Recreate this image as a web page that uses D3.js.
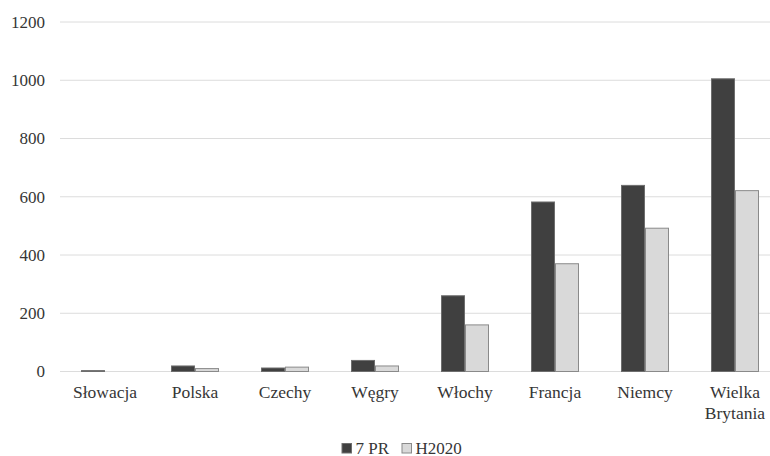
<!DOCTYPE html>
<html>
<head>
<meta charset="utf-8">
<script src="https://cdn.jsdelivr.net/npm/d3@7"></script>
<style>
  html, body { margin: 0; padding: 0; background: #fff; }
</style>
</head>
<body>
<svg id="chart" width="770" height="456"></svg>
<script>
// Countries (two-line labels split on "\n")
const categories = ["Słowacja", "Polska", "Czechy", "Węgry", "Włochy", "Francja", "Niemcy", "Wielka\nBrytania"];
const seriesNames = ["7 PR", "H2020"];
const fp7Values   = [3, 19, 12, 38, 260, 582, 639, 1005];
const h2020Values = [0, 10, 15, 19, 160, 370, 492, 621];
const yTicks = [0, 200, 400, 600, 800, 1000, 1200];

const fills   = ["#404040", "#d9d9d9"];
const strokes = ["#6e6e6e", "#8a8a8a"];
const serif = "\"Liberation Serif\"";
const textColor = "#363636";

const svg = d3.select("#chart");
const plotLeft = 60, plotRight = 780, plotTop = 22, plotBottom = 371.5;

const x0 = d3.scaleBand().domain(categories.map((_, i) => i)).range([plotLeft, plotRight]);
const x1 = d3.scaleBand().domain([0, 1]).range([x0.bandwidth() / 2 - 24, x0.bandwidth() / 2 + 24]);
const y = d3.scaleLinear().domain([0, 1200]).range([plotBottom, plotTop]);

// Horizontal gridlines
svg.append("g")
  .selectAll("line")
  .data(yTicks)
  .join("line")
  .attr("x1", plotLeft).attr("x2", plotRight)
  .attr("y1", d => y(d)).attr("y2", d => y(d))
  .attr("stroke", "#dcdcdc").attr("stroke-width", 1);

// Y axis labels
const yAxis = d3.axisLeft(y).tickValues(yTicks).tickFormat(d3.format("d")).tickSize(0).tickPadding(0);
const gy = svg.append("g").attr("transform", `translate(${plotLeft - 15},0)`).call(yAxis);
gy.select(".domain").remove();
gy.selectAll("text")
  .style("font-family", serif)
  .style("font-size", "17px").attr("fill", textColor);

// Bars
const rows = categories.map((c, i) => [fp7Values[i], h2020Values[i]]);
const groups = svg.append("g").selectAll("g")
  .data(rows)
  .join("g")
  .attr("transform", (_, i) => `translate(${x0(i)},0)`);

groups.selectAll("rect")
  .data(d => d.map((v, s) => ({ v, s })).filter(e => e.v > 0))
  .join("rect")
  .attr("x", d => x1(d.s) + 0.5)
  .attr("width", x1.bandwidth() - 1)
  .attr("y", d => y(d.v))
  .attr("height", d => Math.max(0.5, y(0) - y(d.v)))
  .attr("fill", d => fills[d.s])
  .attr("stroke", d => strokes[d.s])
  .attr("stroke-width", 1);

// Category labels
const labels = svg.append("g")
  .selectAll("text")
  .data(categories)
  .join("text")
  .attr("x", (_, i) => x0(i) + x0.bandwidth() / 2)
  .attr("y", 398)
  .attr("text-anchor", "middle")
  .style("font-family", serif)
  .style("font-size", "17.5px")
  .attr("fill", textColor);
labels.each(function (d) {
  const t = d3.select(this);
  d.split("\n").forEach((line, k) => {
    t.append("tspan")
      .attr("x", t.attr("x"))
      .attr("dy", k === 0 ? 0 : 20.5)
      .text(line);
  });
});

// Legend
const legend = svg.append("g");
const legendItems = [
  { name: seriesNames[0], x: 342 },
  { name: seriesNames[1], x: 402 }
];
legendItems.forEach((it, s) => {
  legend.append("rect")
    .attr("x", it.x).attr("y", 443.5)
    .attr("width", 9.5).attr("height", 9.5)
    .attr("fill", fills[s]).attr("stroke", strokes[s]).attr("stroke-width", 1);
  legend.append("text")
    .attr("x", it.x + 13.5).attr("y", 453.5)
    .style("font-family", serif)
    .style("font-size", "17px").attr("fill", textColor)
    .text(it.name);
});
</script>
</body>
</html>
